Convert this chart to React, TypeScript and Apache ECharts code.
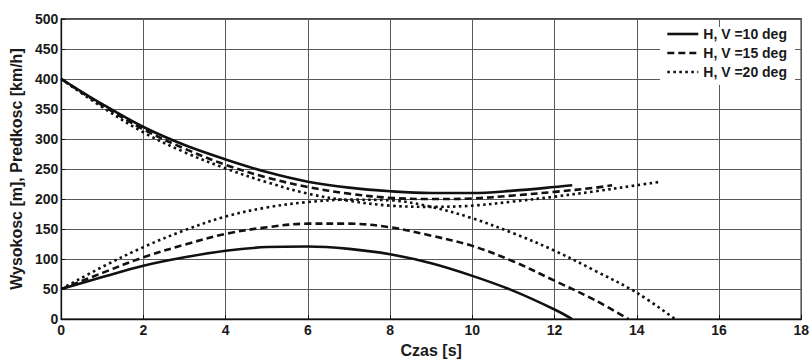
import React, { useEffect, useRef } from "react";
import * as echarts from "echarts";

const FONT = "'Liberation Sans', Arial, Helvetica, sans-serif";

const legendNames = ["H, V =10 deg", "H, V =15 deg", "H, V =20 deg"];
const xAxisName = "Czas [s]";
const yAxisName = "Wysokosc [m], Predkosc [km/h]";

// 10 deg (solid)
const h10X = [0, 1, 2, 3, 4, 5, 6, 7, 8, 9, 10, 11, 12, 12.43];
const h10Y = [50, 70, 89, 103, 114, 120, 121, 117, 108, 93, 72, 47, 16, 0];
const v10X = [0, 1, 2, 3, 4, 5, 6, 7, 8, 9, 10, 11, 12, 12.43];
const v10Y = [400, 358, 320, 290, 266, 245, 229, 219, 213, 210, 210, 214, 220, 223];

// 15 deg (dashed)
const h15X = [0, 1, 2, 3, 4, 5, 6, 7, 8, 9, 10, 11, 12, 13, 13.8];
const h15Y = [50, 77, 103, 124, 142, 153, 159, 159, 153, 139, 122, 96, 64, 31, 0];
const v15X = [0, 1, 2, 3, 4, 5, 6, 7, 8, 9, 10, 11, 12, 13, 13.4];
const v15Y = [400, 356, 316, 284, 257, 236, 220, 209, 202, 200, 201, 206, 212, 219, 223];

// 20 deg (dotted)
const h20X = [0, 1, 2, 3, 4, 5, 6, 7, 8, 9, 10, 11, 12, 13, 14, 14.93];
const h20Y = [50, 87, 120, 148, 171, 186, 195, 199, 198, 187, 168, 143, 114, 80, 44, 0];
const v20X = [0, 1, 2, 3, 4, 5, 6, 7, 8, 9, 10, 11, 12, 13, 14, 14.6];
const v20Y = [400, 353, 311, 278, 251, 228, 209, 197, 189, 187, 189, 196, 204, 213, 223, 229];

const zip = (xs: number[], ys: number[]) => xs.map((x, i) => [x, ys[i]]);

const styles: Record<string, any> = {
  solid: { type: "solid", width: 2.6 },
  dashed: { type: [7, 4], width: 2.6 },
  dotted: { type: [2.6, 3.4], width: 2.6 },
};

export default function App() {
  const ref = useRef<HTMLDivElement>(null);

  useEffect(() => {
    if (!ref.current) return;
    const chart = echarts.init(ref.current, undefined, { renderer: "svg" });

    const mk = (name: string, xs: number[], ys: number[], st: string) => ({
      name,
      type: "line",
      data: zip(xs, ys),
      showSymbol: false,
      symbol: "none",
      smooth: 0.35,
      lineStyle: { color: "#111", ...styles[st] },
      itemStyle: { color: "#111" },
      emphasis: { disabled: true },
    });

    const labelStyle = { fontSize: 14, color: "#1a1a1a", fontFamily: FONT, fontWeight: "bold" as const };
    const nameStyle = { fontSize: 16, color: "#1a1a1a", fontFamily: FONT, fontWeight: "bold" as const };

    chart.setOption({
      animation: false,
      backgroundColor: "#ffffff",
      textStyle: { fontFamily: FONT },
      grid: {
        left: 58,
        right: 10,
        top: 19,
        bottom: 34,
        show: true,
        borderColor: "#111",
        borderWidth: 1.3,
        backgroundColor: "transparent",
      },
      legend: {
        orient: "vertical",
        left: 660,
        top: 27,
        padding: [0, 8, 6, 6],
        itemWidth: 31,
        itemHeight: 14,
        itemGap: 5,
        backgroundColor: "#ffffff",
        itemStyle: { opacity: 0 },
        lineStyle: { width: 2.6 },
        textStyle: { fontSize: 14, color: "#1a1a1a", fontFamily: FONT, fontWeight: "bold" },
        data: legendNames,
      },
      xAxis: {
        type: "value",
        min: 0,
        max: 18,
        interval: 2,
        name: xAxisName,
        nameLocation: "middle",
        nameGap: 19,
        nameTextStyle: nameStyle,
        axisLine: { show: true, lineStyle: { color: "#111", width: 1.3 } },
        axisTick: { show: true, inside: true, length: 4, lineStyle: { color: "#111" } },
        axisLabel: { ...labelStyle, margin: 4 },
        splitLine: { show: true, lineStyle: { color: "#5a5a5a", width: 1 } },
      },
      yAxis: {
        type: "value",
        min: 0,
        max: 500,
        interval: 50,
        name: yAxisName,
        nameLocation: "middle",
        nameGap: 32,
        nameTextStyle: nameStyle,
        axisLine: { show: true, lineStyle: { color: "#111", width: 1.3 } },
        axisTick: { show: true, inside: true, length: 4, lineStyle: { color: "#111" } },
        axisLabel: { ...labelStyle, margin: 3 },
        splitLine: { show: true, lineStyle: { color: "#5a5a5a", width: 1 } },
      },
      series: [
        mk(legendNames[0], h10X, h10Y, "solid"),
        mk(legendNames[0], v10X, v10Y, "solid"),
        mk(legendNames[1], h15X, h15Y, "dashed"),
        mk(legendNames[1], v15X, v15Y, "dashed"),
        mk(legendNames[2], h20X, h20Y, "dotted"),
        mk(legendNames[2], v20X, v20Y, "dotted"),
      ],
    });

    return () => chart.dispose();
  }, []);

  return (
    <div
      ref={ref}
      style={{ position: "fixed", left: 0, top: 0, width: 812, height: 363, background: "#fff" }}
    />
  );
}
